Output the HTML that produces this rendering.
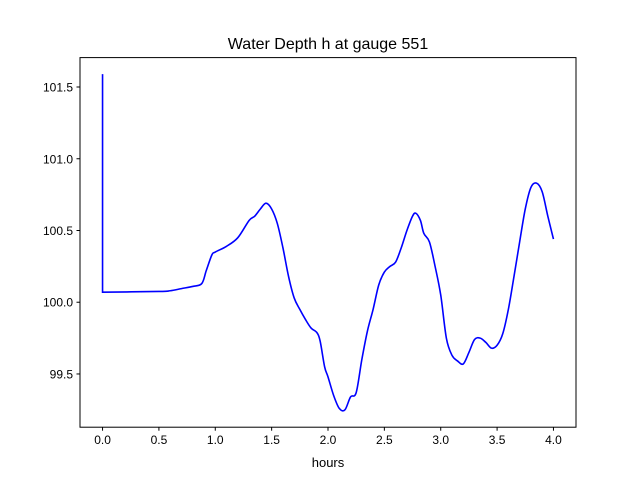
<!DOCTYPE html>
<html><head><meta charset="utf-8"><style>
body{margin:0;background:#fff;}
svg{display:block;font-family:"Liberation Sans","DejaVu Sans",sans-serif;}
</style></head><body>
<svg id="chart" width="640" height="480">
<rect width="640" height="480" fill="#fff"/>
<text x="328" y="49" text-anchor="middle" font-size="16">Water Depth h at gauge 551</text>
<text x="328" y="467" text-anchor="middle" font-size="13">hours</text>
<g id="ticks"></g>
<path id="line" fill="none" stroke="#0000ff" stroke-width="1.6"/>
<rect x="80" y="57.6" width="496" height="369.6" fill="none" stroke="#000" stroke-width="1"/>
</svg>
<script>
const xTicks=[0,0.5,1.0,1.5,2.0,2.5,3.0,3.5,4.0];
const xTickLabels=["0.0","0.5","1.0","1.5","2.0","2.5","3.0","3.5","4.0"];
const yTicks=[99.5,100.0,100.5,101.0,101.5];
const yTickLabels=["99.5","100.0","100.5","101.0","101.5"];
const hours=[0,0,0.5,0.6,0.7,0.8,0.88,0.92,0.97,1.0,1.1,1.2,1.3,1.35,1.4,1.45,1.5,1.55,1.6,1.65,1.7,1.75,1.8,1.85,1.9,1.93,1.97,2.0,2.05,2.1,2.15,2.2,2.25,2.3,2.35,2.4,2.45,2.5,2.55,2.6,2.65,2.7,2.75,2.78,2.82,2.85,2.9,2.95,3.0,3.05,3.1,3.15,3.2,3.25,3.3,3.35,3.4,3.45,3.5,3.55,3.6,3.65,3.7,3.75,3.8,3.85,3.9,3.95,4.0];
const depth=[101.59,100.07,100.075,100.08,100.095,100.11,100.13,100.22,100.33,100.35,100.39,100.45,100.57,100.6,100.65,100.69,100.65,100.55,100.38,100.18,100.03,99.95,99.88,99.82,99.79,99.73,99.55,99.48,99.35,99.26,99.25,99.34,99.37,99.6,99.8,99.95,100.12,100.21,100.25,100.28,100.38,100.5,100.6,100.62,100.57,100.48,100.42,100.25,100.05,99.75,99.63,99.59,99.57,99.65,99.74,99.75,99.72,99.68,99.7,99.78,99.95,100.18,100.42,100.65,100.8,100.83,100.77,100.6,100.44];
const X0=80,X1=576,Y0=57.6,Y1=427.2,xmin=-0.2,xmax=4.2,ymin=99.129,ymax=101.705;
const sx=v=>X0+(v-xmin)/(xmax-xmin)*(X1-X0);
const sy=v=>Y1-(v-ymin)/(ymax-ymin)*(Y1-Y0);
const NS="http://www.w3.org/2000/svg";
const g=document.getElementById('ticks');
xTicks.forEach((t,i)=>{
  const l=document.createElementNS(NS,'line');
  l.setAttribute('x1',sx(t));l.setAttribute('x2',sx(t));l.setAttribute('y1',Y1);l.setAttribute('y2',Y1+3.5);l.setAttribute('stroke','#000');
  
  
  g.appendChild(l);
  const tx=document.createElementNS(NS,'text');
  tx.setAttribute('x',sx(t));tx.setAttribute('y',Y1+17);tx.setAttribute('text-anchor','middle');tx.setAttribute('font-size','12');
  tx.textContent=xTickLabels[i];
  
  
  g.appendChild(tx);
});
yTicks.forEach((t,i)=>{
  const l=document.createElementNS(NS,'line');
  l.setAttribute('x1',X0-3.5);l.setAttribute('x2',X0);l.setAttribute('y1',sy(t));l.setAttribute('y2',sy(t));l.setAttribute('stroke','#000');
  
  
  g.appendChild(l);
  const tx=document.createElementNS(NS,'text');
  tx.setAttribute('x',X0-7);tx.setAttribute('y',sy(t)+4.5);tx.setAttribute('text-anchor','end');tx.setAttribute('font-size','12');
  tx.textContent=yTickLabels[i];
  
  
  g.appendChild(tx);
});
const P=hours.map((h,i)=>[sx(h),sy(depth[i])]);
let d='M'+P[0][0].toFixed(2)+','+P[0][1].toFixed(2)+'L'+P[1][0].toFixed(2)+','+P[1][1].toFixed(2);
for(let i=1;i<P.length-1;i++){
  const p0=P[Math.max(1,i-1)],p1=P[i],p2=P[i+1],p3=P[Math.min(P.length-1,i+2)];
  const c1=[p1[0]+(p2[0]-p0[0])/6,p1[1]+(p2[1]-p0[1])/6];
  const c2=[p2[0]-(p3[0]-p1[0])/6,p2[1]-(p3[1]-p1[1])/6];
  d+='C'+c1[0].toFixed(2)+','+c1[1].toFixed(2)+' '+c2[0].toFixed(2)+','+c2[1].toFixed(2)+' '+p2[0].toFixed(2)+','+p2[1].toFixed(2);
}
document.getElementById('line').setAttribute('d',d);
</script>
</body></html>
